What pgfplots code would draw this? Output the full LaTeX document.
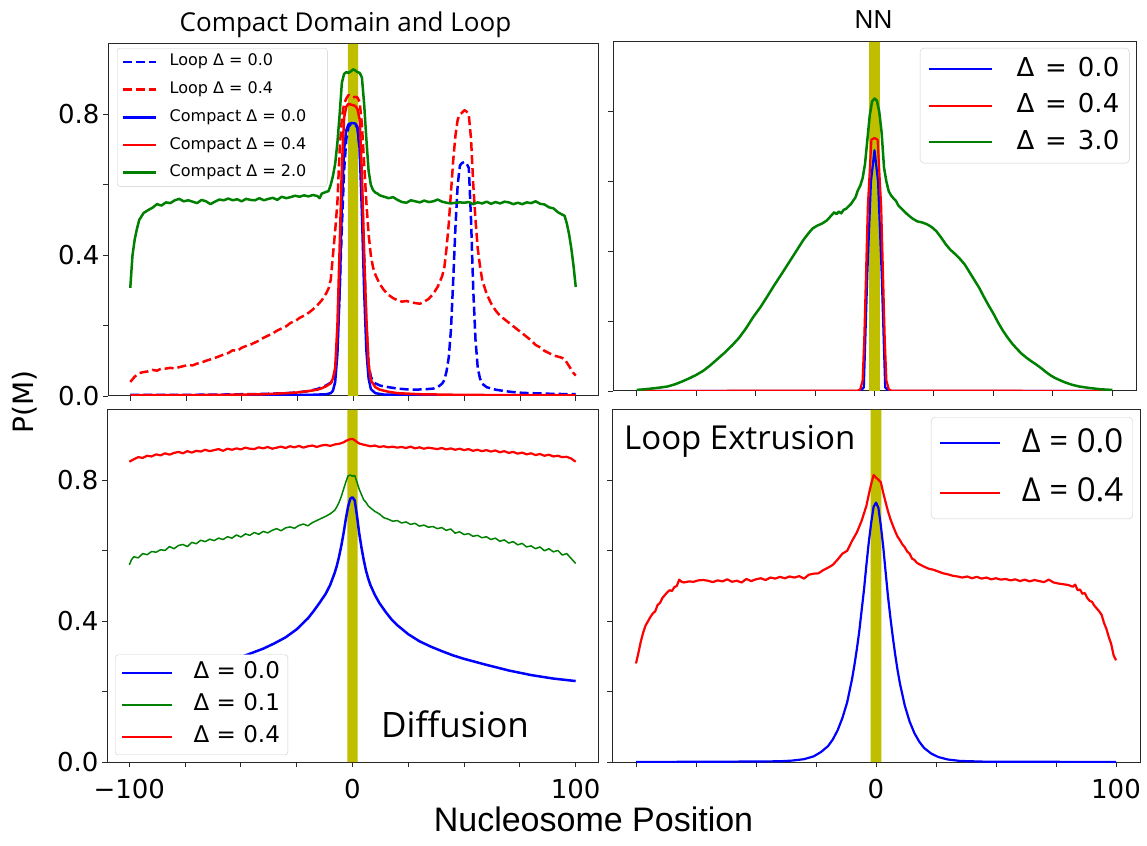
\documentclass[border=0pt]{standalone}
\usepackage{fontspec}
\setmainfont{DejaVu Sans}
\newfontfamily\opensans{Open Sans}
\newfontfamily\libsans{Liberation Sans}
\usepackage{pgfplots}
\pgfplotsset{compat=1.18}
\definecolor{band}{RGB}{191,191,0}
\definecolor{mblue}{RGB}{0,0,255}
\definecolor{mred}{RGB}{255,0,0}
\definecolor{mgreen}{RGB}{0,128,0}
\definecolor{frm}{RGB}{40,40,40}
\newcommand{\fs}[1]{\fontsize{#1pt}{#1pt}\selectfont}
\pgfplotsset{
  panel/.style={
    scale only axis, anchor=south west,
    xmin=-110, xmax=110, ymin=0, ymax=1,
    xtick={-100,-75,...,100}, ytick={0,0.2,0.4,0.6,0.8},
    xticklabels={}, yticklabels={},
    tick pos=left, tick align=outside, major tick length=5pt,
    tick style={frm, line width=0.9pt},
    axis line style={frm, line width=1pt},
    every tick label/.append style={font=\fs{26}, text=black},
    xticklabel style={inner sep=1pt, yshift=-11.5pt},
    no markers,
    every axis plot/.append style={line join=round},
    legend cell align=left,
  },
  band/.style={draw=none, fill=band, forget plot},
}
\begin{document}
\begin{tikzpicture}
\path[use as bounding box] (0pt,0pt) rectangle (1147pt,845pt);
% ---------------- Top left
\begin{axis}[panel, at={(108pt,449pt)}, width=490pt, height=352pt,
  yticklabels={0.0,,0.4,,0.8},
  legend style={at={(0.0184,0.9886)}, anchor=north west, font=\fs{16},
    draw=black!20, rounded corners=3pt, fill=white, inner xsep=5pt, inner ysep=3.7pt,
    row sep=7.7pt, nodes={inner sep=2pt, text height=12pt, text depth=4pt},
    /tikz/every odd column/.append style={column sep=10pt}},
  legend image code/.code={\draw[#1] (0pt,0pt) -- (33pt,0pt);}]
\addplot[band] coordinates {(-2.25,0) (-2.25,1) (2.25,1) (2.25,0)} \closedcycle;
\addplot[mblue, line width=2.5pt, dash pattern=on 9pt off 4pt] coordinates {
(-100,0.003) (-80,0.003) (-60,0.004) (-50,0.005) (-40,0.006) (-30,0.008) (-25,0.010) (-20,0.014) (-16,0.020) (-14,0.025) (-12,0.030) (-10,0.038) (-9,0.045) (-8,0.07) (-7,0.14) (-6,0.30) (-5,0.48) (-4,0.64) (-3,0.73) (-2,0.765) (-1,0.772) (0,0.772) (1,0.770) (2,0.762) (3,0.70) (4,0.58) (5,0.40) (6,0.20) (7,0.09) (8,0.055) (9,0.042) (10,0.036) (12,0.030) (14,0.027) (16,0.025) (20,0.021) (24,0.019) (28,0.018) (32,0.019) (36,0.021) (38,0.025) (40,0.035) (41,0.045) (42,0.07) (43,0.11) (44,0.19) (45,0.33) (46,0.48) (47,0.60) (48,0.655) (49,0.662) (50,0.665) (51,0.660) (52,0.648) (53,0.50) (54,0.30) (55,0.16) (56,0.08) (57,0.05) (58,0.035) (60,0.025) (64,0.018) (68,0.014) (72,0.011) (76,0.009) (80,0.008) (90,0.006) (100,0.005)};
\addlegendentry{Loop Δ = 0.0}
\addplot[mred, line width=2.5pt, dash pattern=on 9pt off 4pt] coordinates {
(-100,0.040) (-98,0.055) (-96,0.065) (-94,0.068) (-92,0.070) (-90,0.074) (-88,0.072) (-86,0.078) (-84,0.078) (-82,0.080) (-80,0.078) (-78,0.082) (-76,0.085) (-74,0.088) (-72,0.087) (-70,0.092) (-68,0.095) (-66,0.100) (-64,0.104) (-62,0.108) (-60,0.113) (-58,0.118) (-56,0.122) (-54,0.130) (-52,0.128) (-50,0.137) (-48,0.142) (-46,0.146) (-44,0.152) (-42,0.158) (-40,0.166) (-38,0.172) (-36,0.178) (-34,0.186) (-32,0.192) (-30,0.198) (-28,0.208) (-26,0.212) (-24,0.222) (-22,0.228) (-20,0.236) (-18,0.246) (-16,0.258) (-14,0.272) (-12,0.292) (-11,0.305) (-10,0.33) (-9,0.40) (-8,0.47) (-7,0.55) (-6,0.70) (-5,0.79) (-4,0.83) (-3,0.845) (-2,0.855) (-1,0.852) (0,0.848) (1,0.850) (2,0.848) (3,0.835) (4,0.77) (5,0.66) (6,0.55) (7,0.46) (8,0.40) (9,0.365) (10,0.345) (12,0.318) (14,0.300) (16,0.287) (18,0.278) (20,0.272) (22,0.268) (24,0.270) (26,0.266) (28,0.264) (30,0.262) (32,0.268) (34,0.276) (36,0.290) (38,0.310) (40,0.340) (41,0.365) (42,0.42) (43,0.49) (44,0.58) (45,0.67) (46,0.74) (47,0.785) (48,0.80) (49,0.805) (50,0.812) (51,0.808) (52,0.798) (53,0.73) (54,0.60) (55,0.50) (56,0.42) (57,0.37) (58,0.33) (60,0.29) (62,0.263) (64,0.243) (66,0.228) (68,0.218) (70,0.208) (72,0.198) (74,0.188) (76,0.178) (78,0.168) (80,0.158) (82,0.145) (84,0.138) (86,0.128) (88,0.122) (90,0.115) (92,0.112) (94,0.108) (95,0.105) (96,0.095) (97,0.085) (98,0.075) (99,0.065) (100,0.058)};
\addlegendentry{Loop Δ = 0.4}
\addplot[mblue, line width=2.5pt] coordinates {
(-100,0.002) (-40,0.002) (-20,0.003) (-12,0.005) (-10,0.008) (-9,0.015) (-8,0.04) (-7,0.12) (-6,0.30) (-5,0.55) (-4,0.70) (-3,0.755) (-2,0.772) (-1,0.775) (0,0.775) (1,0.774) (2,0.765) (3,0.70) (4,0.52) (5,0.30) (6,0.13) (7,0.05) (8,0.02) (10,0.008) (14,0.004) (30,0.002) (100,0.002)};
\addlegendentry{Compact Δ = 0.0\hspace*{14pt}}
\addplot[mred, line width=2.5pt] coordinates {
(-100,0.002) (-60,0.003) (-40,0.005) (-30,0.008) (-25,0.010) (-20,0.014) (-16,0.018) (-14,0.022) (-12,0.028) (-10,0.036) (-9,0.05) (-8,0.08) (-7,0.20) (-6,0.42) (-5,0.65) (-4,0.79) (-3,0.822) (-2,0.830) (-1,0.828) (0,0.826) (1,0.824) (2,0.815) (3,0.785) (4,0.63) (5,0.40) (6,0.22) (7,0.09) (8,0.045) (10,0.025) (12,0.018) (16,0.012) (20,0.008) (30,0.005) (50,0.003) (100,0.002)};
\addlegendentry{Compact Δ = 0.4}
\addplot[mgreen, line width=2.5pt] coordinates {
(-100,0.307) (-99,0.40) (-98,0.445) (-97,0.475) (-96,0.50) (-94,0.52) (-92,0.528) (-90,0.535) (-88,0.545) (-86,0.541) (-84,0.550) (-82,0.548) (-80,0.556) (-78,0.560) (-76,0.553) (-74,0.556) (-72,0.552) (-70,0.548) (-68,0.557) (-66,0.553) (-64,0.545) (-62,0.552) (-60,0.558) (-58,0.556) (-56,0.561) (-54,0.556) (-52,0.559) (-50,0.553) (-48,0.560) (-46,0.557) (-44,0.556) (-42,0.562) (-40,0.556) (-38,0.560) (-36,0.563) (-34,0.557) (-32,0.566) (-30,0.562) (-28,0.565) (-26,0.569) (-24,0.566) (-22,0.570) (-20,0.567) (-18,0.571) (-16,0.568) (-15,0.562) (-14,0.575) (-12,0.580) (-11,0.582) (-10,0.600) (-9,0.625) (-8,0.660) (-7,0.72) (-6,0.80) (-5,0.89) (-4,0.915) (-3,0.920) (-2,0.918) (-1,0.922) (0,0.928) (1,0.925) (2,0.920) (3,0.918) (4,0.905) (5,0.83) (6,0.73) (7,0.64) (8,0.600) (9,0.585) (10,0.578) (11,0.575) (12,0.570) (14,0.566) (16,0.562) (18,0.565) (20,0.557) (22,0.551) (24,0.549) (26,0.556) (28,0.553) (30,0.550) (32,0.555) (34,0.551) (36,0.553) (38,0.558) (40,0.552) (42,0.549) (44,0.547) (46,0.549) (48,0.550) (50,0.549) (52,0.551) (54,0.545) (56,0.550) (58,0.547) (60,0.552) (62,0.546) (64,0.551) (66,0.547) (68,0.552) (70,0.550) (72,0.545) (74,0.549) (76,0.545) (78,0.550) (80,0.548) (82,0.553) (84,0.546) (86,0.544) (88,0.536) (90,0.533) (92,0.522) (94,0.515) (95,0.512) (96,0.49) (97,0.46) (98,0.42) (99,0.37) (100,0.31)};
\addlegendentry{Compact Δ = 2.0}
\end{axis}
% ---------------- Top right
\begin{axis}[panel, at={(613pt,454pt)}, width=523pt, height=349pt,
  legend style={at={(0.9876,0.983)}, anchor=north east, font=\fs{26},
    draw=black!20, rounded corners=4pt, fill=white, inner xsep=8pt, inner ysep=7pt,
    row sep=8.5pt, nodes={inner sep=2pt, text height=19pt, text depth=5pt},
    /tikz/every odd column/.append style={column sep=21pt}},
  legend image code/.code={\draw[#1] (0pt,0pt) -- (63pt,0pt);}]
\addplot[band] coordinates {(-2.25,0) (-2.25,1) (2.25,1) (2.25,0)} \closedcycle;
\addplot[mblue, line width=2.2pt] coordinates {
(-100,0) (-6,0) (-4.5,0.01) (-3,0.34) (-1.5,0.6) (0,0.69) (1.5,0.6) (3,0.34) (4.5,0.01) (6,0) (100,0)};
\addlegendentry{Δ\hspace{0.42em}=\hspace{0.42em}0.0}
\addplot[mred, line width=2.2pt] coordinates {
(-100,0) (-7,0.001) (-6,0.005) (-5,0.03) (-4.3,0.15) (-2.8,0.53) (-1.3,0.72) (0,0.725) (1.3,0.72) (2.8,0.53) (4.3,0.15) (5,0.03) (6,0.005) (7,0.001) (100,0)};
\addlegendentry{Δ\hspace{0.42em}=\hspace{0.42em}0.4}
\addplot[mgreen, line width=2.5pt] coordinates {
(-100,0.003) (-95,0.006) (-90,0.010) (-87,0.013) (-84,0.019) (-81,0.027) (-78,0.036) (-75,0.046) (-72,0.058) (-69,0.074) (-66,0.092) (-63,0.110) (-60,0.130) (-57,0.152) (-54,0.180) (-51,0.212) (-48,0.240) (-45,0.272) (-42,0.305) (-39,0.336) (-36,0.368) (-33,0.400) (-30,0.432) (-28,0.450) (-26,0.466) (-24,0.474) (-22,0.480) (-20,0.489) (-18,0.504) (-17,0.512) (-16,0.507) (-15,0.514) (-14,0.509) (-13,0.519) (-12,0.522) (-10,0.535) (-9,0.545) (-8,0.555) (-7,0.575) (-6,0.588) (-5,0.610) (-4,0.650) (-3,0.72) (-2,0.79) (-1,0.830) (0,0.838) (1,0.832) (2,0.80) (3,0.74) (4,0.64) (5,0.600) (6,0.572) (7,0.560) (8,0.552) (9,0.545) (10,0.532) (12,0.518) (14,0.505) (16,0.494) (18,0.486) (20,0.483) (22,0.478) (24,0.470) (26,0.458) (28,0.440) (30,0.420) (32,0.404) (34,0.392) (36,0.378) (38,0.362) (40,0.340) (42,0.318) (44,0.296) (46,0.270) (48,0.245) (50,0.222) (52,0.196) (54,0.173) (56,0.153) (58,0.135) (60,0.120) (62,0.106) (64,0.095) (66,0.085) (68,0.076) (70,0.066) (72,0.055) (74,0.045) (76,0.037) (78,0.031) (80,0.025) (83,0.018) (86,0.013) (90,0.009) (95,0.005) (100,0.003)};
\addlegendentry{Δ\hspace{0.42em}=\hspace{0.42em}3.0}
\end{axis}
% ---------------- Bottom left
\begin{axis}[panel, at={(107pt,83pt)}, width=491pt, height=352pt,
  yticklabels={0.0,,0.4,,0.8}, xticklabels={−100,,,,0,,,,100},
  legend style={at={(0.0163,0.0199)}, anchor=south west, font=\fs{23},
    draw=black!20, rounded corners=3pt, fill=white, inner xsep=6pt, inner ysep=6pt,
    row sep=8pt, nodes={inner sep=2pt, text height=16pt, text depth=4pt},
    /tikz/every odd column/.append style={column sep=18pt}},
  legend image code/.code={\draw[#1] (0pt,0pt) -- (50pt,0pt);}]
\addplot[band] coordinates {(-2.25,0) (-2.25,1) (2.25,1) (2.25,0)} \closedcycle;
\addplot[mblue, line width=2.5pt] coordinates {
(-100,0.232) (-90,0.240) (-80,0.251) (-70,0.264) (-60,0.280) (-50,0.298) (-45,0.310) (-40,0.322) (-35,0.337) (-30,0.354) (-25,0.377) (-20,0.408) (-17.5,0.428) (-15,0.450) (-12,0.478) (-10,0.503) (-8,0.537) (-7,0.558) (-6,0.584) (-5,0.615) (-4,0.650) (-3,0.690) (-2,0.725) (-1,0.748) (0,0.752) (1,0.743) (2,0.700) (3,0.650) (4,0.610) (5,0.575) (6,0.545) (7,0.522) (8,0.503) (10,0.475) (12,0.452) (15,0.425) (17.5,0.405) (20,0.389) (25,0.363) (30,0.343) (35,0.328) (40,0.315) (45,0.303) (50,0.293) (60,0.276) (70,0.260) (80,0.247) (90,0.237) (100,0.230)};
\addlegendentry{Δ = 0.0}
\addplot[mgreen, line width=1.5pt] coordinates {
(-100,0.560) (-99,0.575) (-98,0.583) (-96,0.580) (-94,0.592) (-92,0.589) (-90,0.598) (-88,0.596) (-86,0.603) (-84,0.601) (-82,0.612) (-80,0.606) (-78,0.615) (-76,0.618) (-74,0.612) (-72,0.624) (-70,0.620) (-68,0.630) (-66,0.626) (-64,0.633) (-62,0.629) (-60,0.636) (-58,0.632) (-56,0.640) (-54,0.636) (-52,0.645) (-50,0.639) (-48,0.648) (-46,0.644) (-44,0.652) (-42,0.647) (-40,0.655) (-38,0.651) (-36,0.658) (-34,0.663) (-32,0.657) (-30,0.665) (-28,0.668) (-26,0.664) (-24,0.672) (-22,0.676) (-20,0.671) (-18,0.680) (-16,0.686) (-14,0.692) (-12,0.698) (-10,0.705) (-8,0.715) (-7,0.725) (-6,0.738) (-5,0.755) (-4,0.775) (-3,0.795) (-2,0.813) (-1,0.815) (0,0.812) (1,0.814) (2,0.795) (3,0.775) (4,0.760) (5,0.745) (6,0.738) (7,0.728) (8,0.722) (10,0.712) (12,0.705) (14,0.694) (16,0.690) (18,0.684) (20,0.686) (22,0.679) (24,0.682) (26,0.675) (28,0.678) (30,0.670) (32,0.673) (34,0.667) (36,0.669) (38,0.663) (40,0.666) (42,0.658) (44,0.662) (46,0.650) (48,0.654) (50,0.646) (52,0.649) (54,0.641) (56,0.644) (58,0.637) (60,0.640) (62,0.632) (64,0.636) (66,0.627) (68,0.631) (70,0.622) (72,0.626) (74,0.617) (76,0.621) (78,0.611) (80,0.614) (82,0.606) (84,0.611) (86,0.600) (88,0.606) (90,0.597) (92,0.601) (94,0.588) (96,0.592) (98,0.578) (100,0.564)};
\addlegendentry{Δ = 0.1}
\addplot[mred, line width=2.2pt] coordinates {
(-100,0.853) (-98,0.860) (-96,0.866) (-94,0.864) (-92,0.870) (-90,0.868) (-88,0.874) (-86,0.871) (-84,0.877) (-82,0.873) (-80,0.878) (-78,0.881) (-76,0.877) (-74,0.883) (-72,0.879) (-70,0.884) (-68,0.882) (-66,0.887) (-64,0.883) (-62,0.886) (-60,0.889) (-58,0.884) (-56,0.890) (-54,0.887) (-52,0.891) (-50,0.888) (-48,0.893) (-46,0.890) (-44,0.889) (-42,0.894) (-40,0.891) (-38,0.895) (-36,0.890) (-34,0.893) (-32,0.896) (-30,0.892) (-28,0.897) (-26,0.894) (-24,0.898) (-22,0.893) (-20,0.897) (-18,0.899) (-16,0.895) (-14,0.899) (-12,0.901) (-10,0.898) (-8,0.902) (-6,0.904) (-4,0.908) (-3,0.912) (-2,0.915) (-1,0.917) (0,0.918) (1,0.914) (2,0.909) (3,0.905) (4,0.903) (6,0.900) (8,0.897) (10,0.899) (12,0.895) (14,0.897) (16,0.894) (18,0.896) (20,0.893) (22,0.895) (24,0.892) (26,0.896) (28,0.891) (30,0.894) (32,0.890) (34,0.893) (36,0.891) (38,0.889) (40,0.892) (42,0.888) (44,0.891) (46,0.887) (48,0.890) (50,0.886) (52,0.889) (54,0.884) (56,0.887) (58,0.883) (60,0.886) (62,0.882) (64,0.885) (66,0.880) (68,0.883) (70,0.878) (72,0.881) (74,0.876) (76,0.879) (78,0.874) (80,0.877) (82,0.872) (84,0.875) (86,0.870) (88,0.873) (90,0.868) (92,0.870) (94,0.866) (96,0.867) (98,0.862) (100,0.853)};
\addlegendentry{Δ = 0.4}
\end{axis}
% ---------------- Bottom right
\begin{axis}[panel, at={(612pt,83pt)}, width=528pt, height=352pt,
  xticklabels={,,,,0,,,,100},
  legend style={at={(0.9867,0.980)}, anchor=north east, font=\opensans\fs{33},
    draw=black!20, rounded corners=4pt, fill=white, inner xsep=7.5pt, inner ysep=7pt,
    row sep=11.7pt, nodes={inner sep=2pt, text height=26pt, text depth=8pt},
    /tikz/every odd column/.append style={column sep=19pt}},
  legend image code/.code={\draw[#1] (0pt,0pt) -- (60pt,0pt);}]
\addplot[band] coordinates {(-2.25,0) (-2.25,1) (2.25,1) (2.25,0)} \closedcycle;
\addplot[mblue, line width=2.2pt] coordinates {
(-100,0) (-60,0.001) (-40,0.002) (-35,0.004) (-30,0.008) (-26,0.016) (-23,0.028) (-20,0.045) (-18,0.064) (-16,0.090) (-14,0.125) (-12,0.17) (-10,0.235) (-9,0.275) (-8,0.32) (-7,0.37) (-6,0.43) (-5,0.49) (-4,0.56) (-3,0.625) (-2,0.68) (-1,0.725) (0,0.737) (1,0.722) (2,0.672) (3,0.612) (4,0.54) (5,0.47) (6,0.41) (7,0.355) (8,0.305) (9,0.26) (10,0.222) (12,0.16) (14,0.115) (16,0.082) (18,0.058) (20,0.040) (23,0.024) (26,0.014) (30,0.007) (35,0.003) (45,0.001) (100,0)};
\addlegendentry{Δ = 0.0}
\addplot[mred, line width=2.2pt] coordinates {
(-100,0.280) (-99,0.310) (-98,0.342) (-97,0.368) (-96,0.388) (-95,0.400) (-94,0.412) (-93,0.422) (-92,0.428) (-91,0.446) (-90,0.452) (-89,0.466) (-88,0.474) (-87,0.482) (-86,0.488) (-85,0.486) (-84,0.497) (-83,0.500) (-82,0.518) (-81,0.512) (-80,0.510) (-78,0.513) (-76,0.512) (-74,0.516) (-72,0.517) (-70,0.515) (-68,0.511) (-66,0.516) (-64,0.513) (-62,0.519) (-60,0.512) (-58,0.515) (-56,0.510) (-54,0.520) (-52,0.514) (-50,0.519) (-48,0.522) (-46,0.517) (-44,0.524) (-42,0.521) (-40,0.526) (-38,0.522) (-36,0.527) (-34,0.524) (-32,0.528) (-30,0.521) (-28,0.532) (-26,0.535) (-24,0.536) (-22,0.545) (-20,0.552) (-18,0.560) (-16,0.575) (-14,0.592) (-12,0.600) (-10,0.628) (-8,0.652) (-6,0.685) (-4,0.728) (-3,0.760) (-2,0.790) (-1,0.815) (0,0.808) (1,0.802) (2,0.795) (3,0.765) (4,0.738) (5,0.712) (6,0.690) (7,0.672) (8,0.655) (9,0.640) (10,0.630) (11,0.618) (12,0.610) (13,0.598) (14,0.592) (15,0.578) (16,0.574) (17,0.566) (18,0.562) (20,0.555) (22,0.549) (24,0.546) (26,0.541) (28,0.536) (30,0.533) (32,0.529) (34,0.527) (36,0.524) (38,0.527) (40,0.522) (42,0.526) (44,0.521) (46,0.524) (48,0.519) (50,0.522) (52,0.518) (54,0.520) (56,0.516) (58,0.519) (60,0.514) (62,0.518) (64,0.513) (66,0.517) (68,0.514) (70,0.511) (72,0.518) (74,0.510) (76,0.507) (78,0.505) (80,0.503) (82,0.498) (83,0.504) (84,0.488) (85,0.490) (86,0.478) (87,0.480) (88,0.466) (89,0.458) (90,0.455) (91,0.444) (92,0.436) (93,0.428) (94,0.418) (95,0.395) (96,0.378) (97,0.355) (98,0.335) (99,0.303) (100,0.289)};
\addlegendentry{Δ = 0.4}
\end{axis}
% ---------------- texts
\node[font=\opensans\fs{26}, anchor=base] at (345.5pt,813.3pt) {Compact Domain and Loop};
\node[font=\libsans\fs{26}, anchor=base] at (873.5pt,816.7pt) {NN};
\node[font=\fs{28}, rotate=90, anchor=center] at (25pt,443pt) {P(M)};
\node[font=\libsans\fs{34}, anchor=base, inner sep=0pt] at (593.5pt,13pt) {Nucleosome Position};
\node[font=\opensans\fs{35}, anchor=base west, inner sep=0pt] at (381pt,107pt) {Diffusion};
\node[font=\opensans\fs{33}, anchor=base west, inner sep=0pt] at (624pt,395pt) {Loop Extrusion};
\end{tikzpicture}
\end{document}
